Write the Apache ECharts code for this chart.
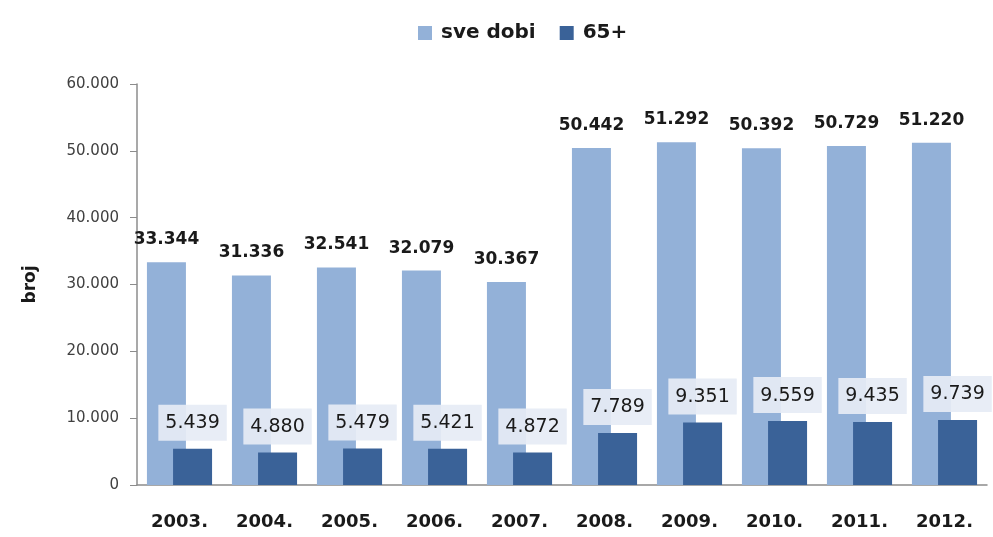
<!DOCTYPE html>
<html><head><meta charset="utf-8">
<script src="https://cdn.jsdelivr.net/npm/echarts@6/dist/echarts.min.js"></script>
<style>html,body{margin:0;padding:0;background:#fff}#c{width:993px;height:537px}</style>
</head><body><div id="c"></div>
<script>
var categories = ['2003.','2004.','2005.','2006.','2007.','2008.','2009.','2010.','2011.','2012.'];
var sveDobi = [33344,31336,32541,32079,30367,50442,51292,50392,50729,51220];
var stariji = [5439,4880,5479,5421,4872,7789,9351,9559,9435,9739];
var seriesNames = ['sve dobi','65+'];
var yTicks = [0,10000,20000,30000,40000,50000,60000];

function fmt(v){ return String(v).replace(/\B(?=(\d{3})+(?!\d))/g,'.'); }
var FONT = '"DejaVu Sans", sans-serif';
var chart = echarts.init(document.getElementById('c'));
chart.setOption({
  animation:false,
  textStyle:{fontFamily:FONT},
  legend:{top:18,left:413,itemWidth:14,itemHeight:14,itemGap:24,icon:'rect',
    textStyle:{fontSize:20,fontWeight:'bold',color:'#1a1a1a',fontFamily:FONT,padding:[0,0,0,4]}},
  grid:{left:137,right:6,top:84,bottom:52},
  xAxis:{type:'category',data:categories,
    axisLine:{lineStyle:{color:'#8c8c8c',width:1.5}},axisTick:{show:false},
    axisLabel:{fontSize:18,fontWeight:'bold',color:'#1a1a1a',margin:28,fontFamily:FONT}},
  yAxis:{type:'value',min:yTicks[0],max:yTicks[yTicks.length-1],interval:10000,
    name:'broj',nameLocation:'middle',nameGap:98,nameRotate:90,
    nameTextStyle:{fontSize:17,fontWeight:'bold',color:'#1a1a1a',fontFamily:FONT},
    axisLine:{show:true,lineStyle:{color:'#8c8c8c',width:1.5}},
    axisTick:{show:true,length:7,lineStyle:{color:'#8c8c8c'}},
    splitLine:{show:false},
    axisLabel:{fontSize:15,color:'#404040',margin:18,formatter:function(v){return fmt(v);},fontFamily:FONT}},
  series:[
    {name:seriesNames[0],type:'bar',data:sveDobi,barWidth:39,barGap:'-33%',
     itemStyle:{color:'#93b1d8'},
     label:{show:true,position:'top',distance:14,fontSize:17,fontWeight:'bold',color:'#1a1a1a',
       formatter:function(p){return fmt(p.value);},fontFamily:FONT}},
    {name:seriesNames[1],type:'bar',data:stariji,barWidth:39,
     itemStyle:{color:'#3a6298'},
     label:{show:true,position:'top',distance:8,fontSize:19,color:'#1a1a1a',
       backgroundColor:'rgba(230,236,245,0.92)',padding:[9,7,8,7],
       formatter:function(p){return fmt(p.value);},fontFamily:FONT}}
  ]
});
</script></body></html>
